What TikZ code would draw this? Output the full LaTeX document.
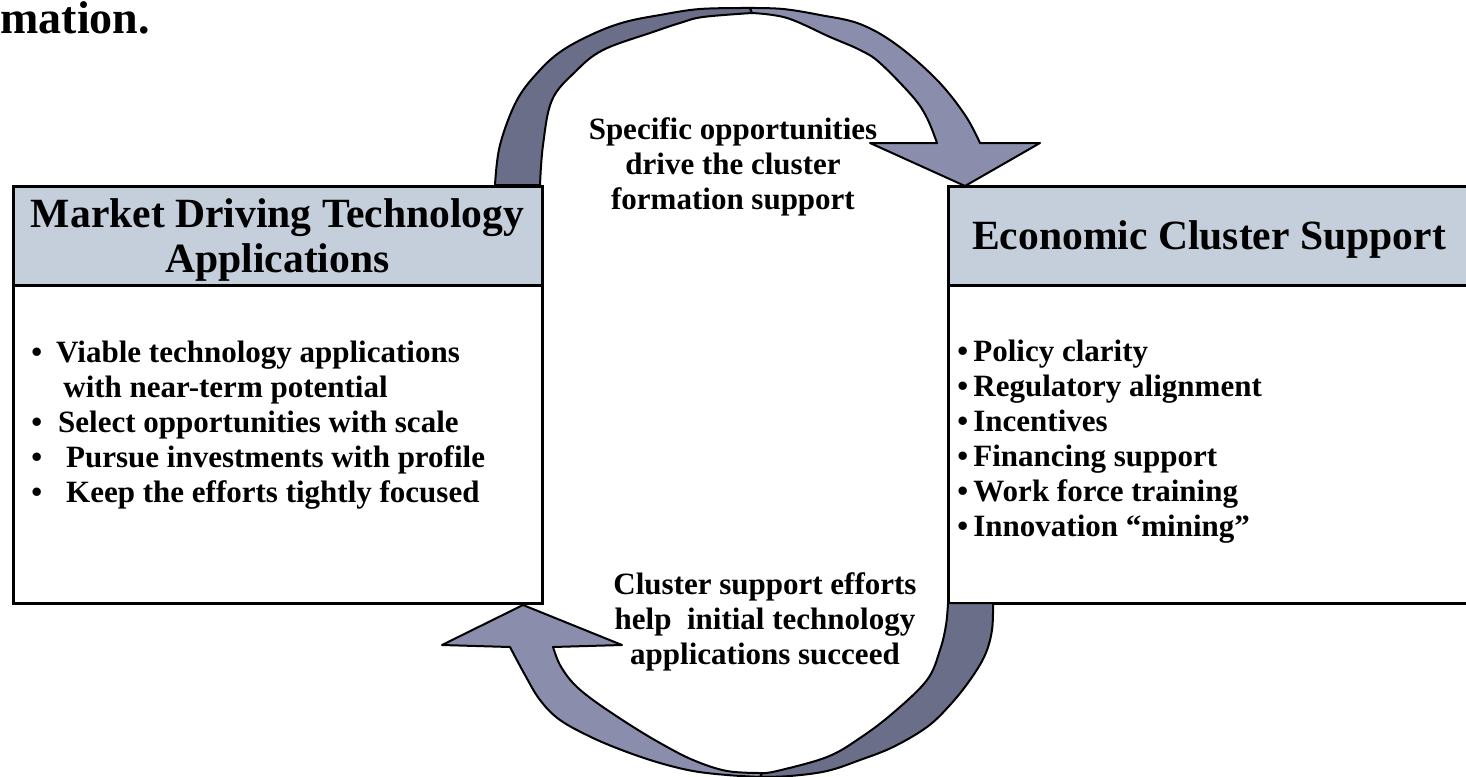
\documentclass[tikz,border=0pt]{standalone}
\usepackage{fontspec}
\setmainfont{Liberation Serif}
\usetikzlibrary{positioning}
\definecolor{hdrfill}{RGB}{196,207,219}
\definecolor{arrlight}{RGB}{138,142,172}
\definecolor{arrdark}{RGB}{106,110,136}
\tikzset{
	hdr/.style={draw,line width=1.5pt,fill=hdrfill,minimum height=49.5pt,inner sep=0pt,outer sep=0pt,
		text depth=0pt,font=\fontsize{20.8}{22.2}\selectfont\bfseries,align=center},
	bodybox/.style={draw,line width=1.5pt,fill=white,minimum height=159pt,inner sep=0pt,outer sep=0pt},
	lst/.style={font=\fontsize{15.5}{17.5}\selectfont\bfseries,align=left,inner sep=0pt},
	lbl/.style={font=\fontsize{15.5}{17.5}\selectfont\bfseries,align=center,inner sep=0pt},
	blockarrow/.style={draw=black,line width=1pt,line join=round},
}
\begin{document}
\begin{tikzpicture}[x=0.5pt,y=-0.5pt]
		\useasboundingbox (0,0) rectangle (1466,776);
		\node[inner sep=0pt,anchor=base west,font=\fontsize{23}{26}\selectfont\bfseries] (frag) at (0,33) {mation.};
		% boxes
		\node[hdr,minimum width=264.5pt,anchor=north west] (mkthdr) at (13,186) {Market Driving Technology\\Applications};
		\node[bodybox,minimum width=264.5pt,below=0pt of mkthdr] (mktbody) {};
		\node[hdr,minimum width=261pt,anchor=north west] (ecohdr) at (948,186) {Economic Cluster Support};
		\node[bodybox,minimum width=261pt,below=0pt of ecohdr] (ecobody) {};
		\node[lst,anchor=north west] (mktlist) at (31,341) {%
			\textbullet\hspace{7pt}Viable technology applications\\
			\hspace{16pt}with near-term potential\\
			\textbullet\hspace{8pt}Select opportunities with scale\\
			\textbullet\hspace{12pt}Pursue investments with profile\\
			\textbullet\hspace{12pt}Keep the efforts tightly focused};
		\node[lst,anchor=north west] (ecolist) at (957,340) {%
			\textbullet\,Policy clarity\\
			\textbullet\,Regulatory alignment\\
			\textbullet\,Incentives\\
			\textbullet\,Financing support\\
			\textbullet\,Work force training\\
			\textbullet\,Innovation “mining”};
		% curved arrows
		\draw[blockarrow,fill=arrdark] plot[smooth,tension=.6] coordinates {(495,185) (500,145) (517,100) (540,70) (563,50) (595,33) (625,22) (660,15) (700,9) (750,8)}
			-- plot[smooth,tension=.6] coordinates {(752,13) (703,17) (680,23) (653,32) (603,50) (575,72) (552,100) (543,145) (540,185)} -- cycle;
		\draw[blockarrow,fill=arrlight] plot[smooth,tension=.6] coordinates {(750,8) (783,9) (820,15) (860,24) (897,45) (937,80) (965,115) (980,143)}
			-- (1040,143) -- (965,186) -- (870,143)
			-- plot[smooth,tension=.6] coordinates {(937,143) (927,118) (913,97) (880,63) (860,50) (830,37) (787,18) (752,13)} -- cycle;
		\draw[blockarrow,fill=arrdark] plot[smooth,tension=.6] coordinates {(993,603) (992,630) (985,655) (970,680) (950,705) (927,727) (893,747) (860,760) (827,771) (790,776) (760,777)}
			-- plot[smooth,tension=.6] coordinates {(762,773) (777,771) (827,757) (860,738) (893,713) (927,680) (940,650) (946,625) (948,603)} -- cycle;
		\draw[blockarrow,fill=arrlight] plot[smooth,tension=.6] coordinates {(760,777) (727,775) (693,771) (660,763) (627,752) (593,738) (560,720) (540,700) (525,675) (510,647)}
			-- (442,645) -- (523,605) -- (622,645)
			-- plot[smooth,tension=.6] coordinates {(553,647) (560,665) (573,683) (593,700) (627,723) (660,743) (693,760) (727,771) (762,773)} -- cycle;
		% arrow texts
		\node[lbl,anchor=north] (toptxt) at (733,117) {Specific opportunities\\drive the cluster\\formation support};
		\node[lbl,anchor=north] (bottxt) at (765,572) {Cluster support efforts\\help\ \ initial technology\\applications succeed};
	\end{tikzpicture}
\end{document}
